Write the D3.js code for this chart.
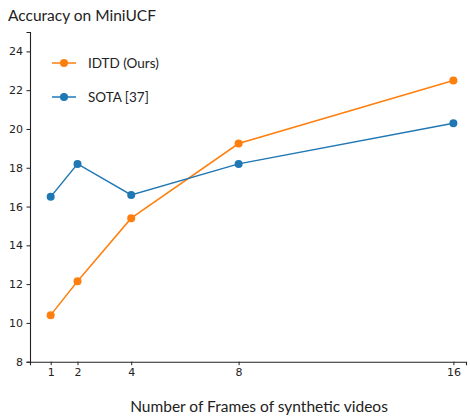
<!DOCTYPE html>
<html><head><meta charset="utf-8">
<script src="https://cdn.jsdelivr.net/npm/d3@7"></script>
<style>body{margin:0;background:#fff}svg{display:block}</style>
</head><body>
<svg id="c" width="470" height="416"></svg>
<script>
const frames = [1, 2, 4, 8, 16];
const idtd = [10.4, 12.15, 15.4, 19.25, 22.5];
const sota = [16.5, 18.2, 16.6, 18.2, 20.3];
const yTicks = [8, 10, 12, 14, 16, 18, 20, 22, 24];
const seriesNames = ["IDTD (Ours)", "SOTA [37]"];
const colors = ["#ff7f0e", "#1f77b4"];

const svg = d3.select("#c");
const x = d3.scaleLinear().domain([0.23, 16.47]).range([30, 466]);
const y = d3.scaleLinear().domain([8, 25]).range([361.7, 32]);

const tickFont = "DejaVu Sans, sans-serif";
const labelFont = "Lato, 'Open Sans', sans-serif";

const xa = svg.append("g").attr("transform", "translate(0,361.7)")
  .call(d3.axisBottom(x).tickValues(frames).tickSize(3.5).tickPadding(3.5).tickFormat(d3.format("d")));
const ya = svg.append("g").attr("transform", "translate(30,0)")
  .call(d3.axisLeft(y).tickValues(yTicks).tickSize(3.5).tickPadding(3.5));
[xa, ya].forEach(a => {
  a.selectAll("text").attr("font-family", tickFont).attr("font-size", 11).attr("fill", "#222");
  a.selectAll("line").attr("stroke", "#222").attr("stroke-width", 1);
  a.select(".domain").attr("stroke", "#222").attr("stroke-width", 1.1);
});

const data = [idtd, sota];
data.forEach((vals, i) => {
  const pts = frames.map((f, j) => [f, vals[j]]);
  svg.append("path").datum(pts)
    .attr("fill", "none").attr("stroke", colors[i]).attr("stroke-width", 1.5)
    .attr("d", d3.line().x(d => x(d[0])).y(d => y(d[1])));
  svg.selectAll(null).data(pts).enter().append("circle")
    .attr("cx", d => x(d[0])).attr("cy", d => y(d[1])).attr("r", 4)
    .attr("fill", colors[i]);
});

// legend
const leg = svg.append("g");
seriesNames.forEach((n, i) => {
  const ly = 63 + i * 34;
  leg.append("line").attr("x1", 52).attr("x2", 76).attr("y1", ly).attr("y2", ly)
    .attr("stroke", colors[i]).attr("stroke-width", 1.5);
  leg.append("circle").attr("cx", 64).attr("cy", ly).attr("r", 4).attr("fill", colors[i]);
  leg.append("text").attr("x", 88).attr("y", ly + 5).text(n)
    .attr("font-family", labelFont).attr("font-size", 13.5).attr("fill", "#222");
});

svg.append("text").attr("x", 8).attr("y", 21).text("Accuracy on MiniUCF")
  .attr("font-family", labelFont).attr("font-size", 15.5).attr("fill", "#222");
svg.append("text").attr("x", 259).attr("y", 412).attr("text-anchor", "middle")
  .text("Number of Frames of synthetic videos")
  .attr("font-family", labelFont).attr("font-size", 15.5).attr("fill", "#222");
</script>
</body></html>
